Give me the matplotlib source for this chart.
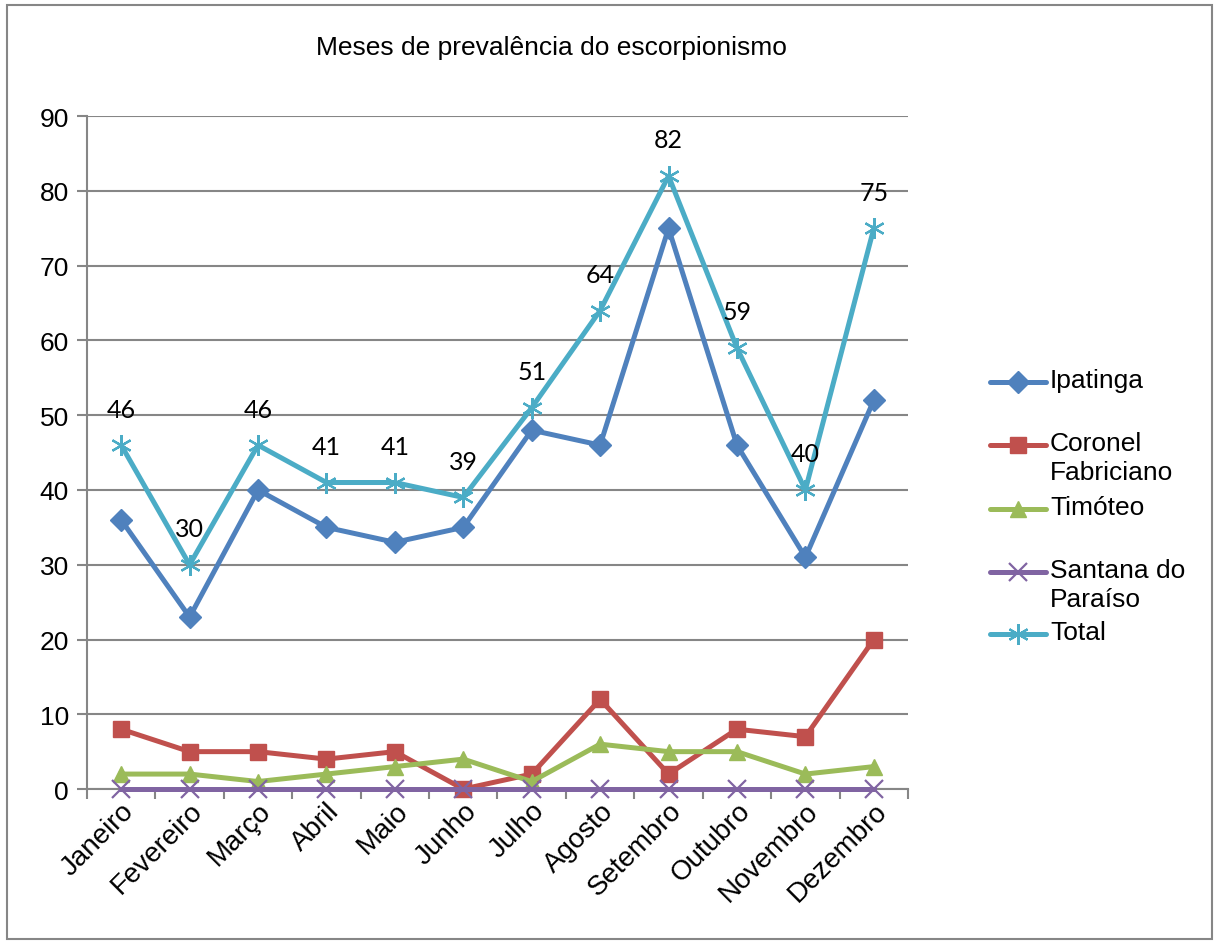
import matplotlib.pyplot as plt
from matplotlib.lines import Line2D
from matplotlib.patches import Rectangle

plt.rcParams['font.family'] = ['Liberation Sans', 'DejaVu Sans']

meses = ["Janeiro", "Fevereiro", "Março", "Abril", "Maio", "Junho",
         "Julho", "Agosto", "Setembro", "Outubro", "Novembro", "Dezembro"]

ipatinga = [36, 23, 40, 35, 33, 35, 48, 46, 75, 46, 31, 52]
coronel_fabriciano = [8, 5, 5, 4, 5, 0, 2, 12, 2, 8, 7, 20]
timoteo = [2, 2, 1, 2, 3, 4, 1, 6, 5, 5, 2, 3]
santana_do_paraiso = [0, 0, 0, 0, 0, 0, 0, 0, 0, 0, 0, 0]
total = [46, 30, 46, 41, 41, 39, 51, 64, 82, 59, 40, 75]

series = [
    ("Ipatinga", ipatinga, "#4F81BD", "D", 11),
    ("Coronel\nFabriciano", coronel_fabriciano, "#C0504D", "s", 12),
    ("Timóteo", timoteo, "#9BBB59", "^", 12),
    ("Santana do\nParaíso", santana_do_paraiso, "#8064A2", "x", 13),
    ("Total", total, "#4BACC6", (6, 2, 0), 15),
]

fig = plt.figure(figsize=(12.18, 9.45), dpi=100)
ax = fig.add_axes([0.0714, 0.164, 0.6741, 0.712])

x = list(range(len(meses)))
for nome, valores, cor, marcador, tam in series:
    kw = dict(markeredgewidth=1.6) if marcador in ("x", (6, 2, 0)) else {}
    ax.plot(x, valores, color=cor, linewidth=3.6, marker=marcador,
            markersize=tam, markerfacecolor=cor, markeredgecolor=cor,
            clip_on=False, zorder=3, **kw)

# rótulos de valor da série Total
for xi, v in zip(x, total):
    ax.annotate(str(v), (xi, v), xytext=(0, 36), textcoords="offset pixels",
                ha="center", va="center", fontsize=18, family="Lato")

ax.set_xlim(-0.5, len(meses) - 0.5)
ax.set_ylim(0, 90)
ax.set_yticks(range(0, 91, 10))
ax.grid(axis="y", color="#868686", linewidth=1.5)
ax.set_axisbelow(True)

ax.set_xticks([i - 0.5 for i in range(len(meses) + 1)])
ax.set_xticklabels([])
ax.set_xticks(x, minor=True)
ax.set_xticklabels(meses, minor=True, rotation=45, ha="right",
                   rotation_mode="anchor", fontsize=20)
ax.tick_params(axis="x", which="minor", length=0, pad=6)
ax.tick_params(axis="x", which="major", length=7, width=1.5, color="#868686")
ax.tick_params(axis="y", length=7, width=1.5, color="#868686",
               labelsize=19, pad=6)

for lado in ("top", "right"):
    ax.spines[lado].set_visible(False)
for lado in ("left", "bottom"):
    ax.spines[lado].set_color("#868686")
    ax.spines[lado].set_linewidth(1.5)

fig.text(0.453, 0.949, "Meses de prevalência do escorpionismo",
         ha="center", va="center", fontsize=19)

# legenda desenhada à mão, com a linha alinhada à primeira linha do texto
leg_y = [383, 446, 510, 573, 635]
for (nome, valores, cor, marcador, tam), yp in zip(series, leg_y):
    yf = 1 - yp / 945
    kw = dict(markeredgewidth=1.6) if marcador in ("x", (6, 2, 0)) else {}
    fig.add_artist(Line2D([990 / 1218, 1046 / 1218], [yf, yf], color=cor,
                          linewidth=3.6, solid_capstyle="round"))
    fig.add_artist(Line2D([1018 / 1218], [yf], color=cor, marker=marcador,
                          markersize=tam, markerfacecolor=cor,
                          markeredgecolor=cor, **kw))
    fig.text(1050 / 1218, yf + 14 / 945, nome, ha="left", va="top",
             fontsize=19, linespacing=1.25)

fig.add_artist(Rectangle((7 / 1218, 5 / 945), 1205 / 1218, 934 / 945,
                         fill=False, edgecolor="#868686", linewidth=1.5,
                         transform=fig.transFigure))

fig.savefig("out.png", dpi=100)
